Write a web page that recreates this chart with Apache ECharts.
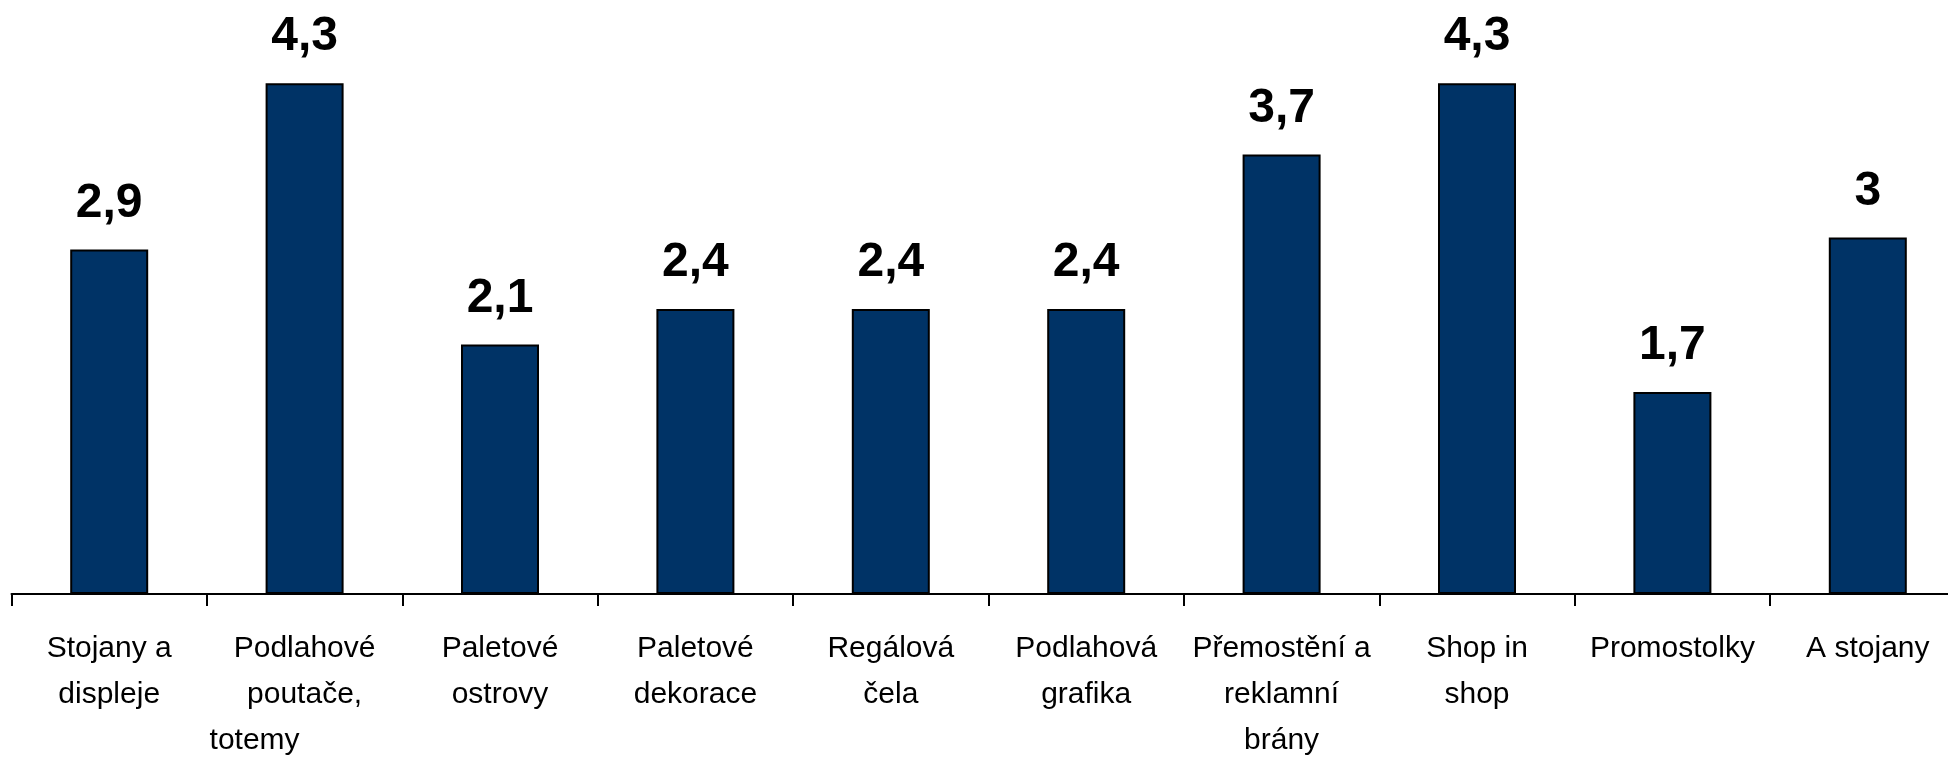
<!DOCTYPE html>
<html>
<head>
<meta charset="utf-8">
<script src="https://cdn.jsdelivr.net/npm/echarts@6/dist/echarts.min.js"></script>
<style>
  html, body { margin: 0; padding: 0; background: #fff; }
  #chart { width: 1948px; height: 757px; }
</style>
</head>
<body>
<div id="chart"></div>
<script>
const categories = [
  'Stojany a\ndispleje',
  'Podlahové\npoutače,\ntotemy            ',
  'Paletové\nostrovy',
  'Paletové\ndekorace',
  'Regálová\nčela',
  'Podlahová\ngrafika',
  'Přemostění a\nreklamní\nbrány',
  'Shop in\nshop',
  'Promostolky',
  'A stojany'
]
const values = [2.9, 4.3, 2.1, 2.4, 2.4, 2.4, 3.7, 4.3, 1.7, 3]

let chart = echarts.init(document.getElementById('chart'))
chart.setOption({
  animation: false,
  grid: {
    left: 11.5,
    right: -17.5,
    top: 0,
    bottom: 163,
    containLabel: false,
    outerBoundsMode: 'none'
  },
  xAxis: {
    type: 'category',
    data: categories,
    axisLine: { lineStyle: { color: '#000', width: 2 } },
    axisTick: { show: true, length: 12, lineStyle: { color: '#000', width: 2 } },
    axisLabel: {
      interval: 0,
      margin: 32,
      color: '#000',
      fontFamily: 'Liberation Sans, Arial, sans-serif',
      fontSize: 30,
      lineHeight: 46
    }
  },
  yAxis: {
    type: 'value',
    min: 0,
    max: 5,
    show: false
  },
  series: [
    {
      type: 'bar',
      data: values,
      barWidth: 78,
      itemStyle: {
        color: '#003366',
        borderColor: '#000',
        borderWidth: 2
      },
      label: {
        show: true,
        position: 'top',
        distance: 22,
        color: '#000',
        fontFamily: 'Liberation Sans, Arial, sans-serif',
        fontWeight: 'bold',
        fontSize: 48,
        formatter: p => String(p.value).replace('.', ',')
      }
    }
  ]
})
</script>
</body>
</html>
